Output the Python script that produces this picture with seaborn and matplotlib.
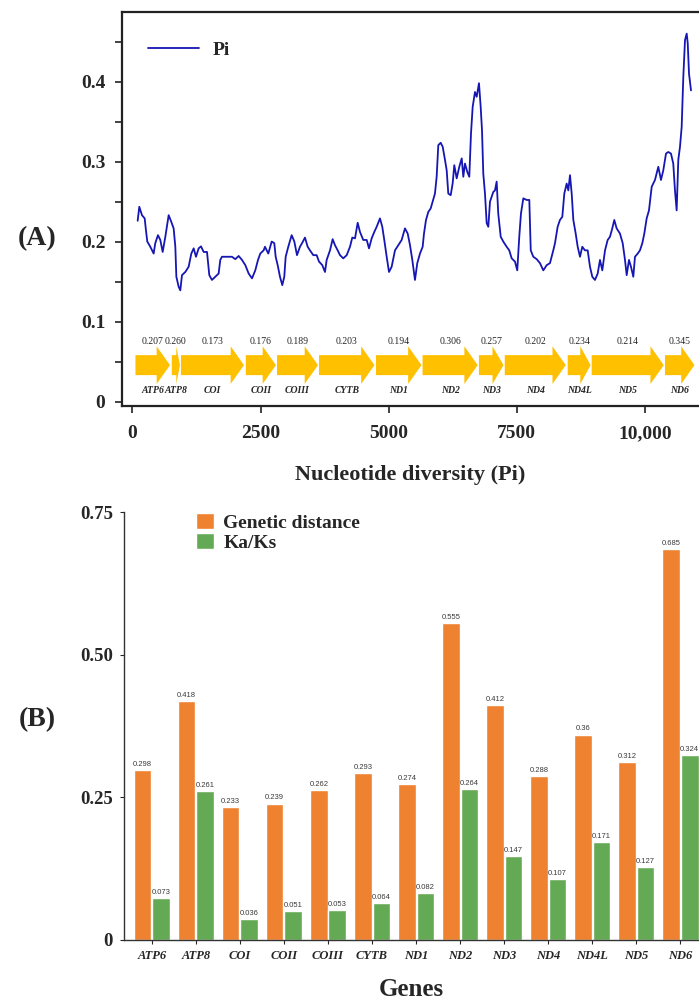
import pandas as pd
import matplotlib.pyplot as plt
import seaborn as sns

# Gene map (bp positions) and per-gene Pi
genes = ["ATP6", "ATP8", "COI", "COII", "COIII", "CYTB", "ND1",
         "ND2", "ND3", "ND4", "ND4L", "ND5", "ND6"]
gene_start = [58, 767, 946, 2211, 2820, 3640, 4751, 5660, 6760, 7264, 8492, 8960, 10390]
gene_end = [732, 927, 2176, 2800, 3620, 4722, 5639, 6736, 7241, 8455, 8939, 10367, 10966]
gene_pi = ["0.207", "0.260", "0.173", "0.176", "0.189", "0.203", "0.194",
           "0.306", "0.257", "0.202", "0.234", "0.214", "0.345"]

# Sliding window Pi
pi_pos = [101, 133, 185, 238, 263, 289, 348, 413, 445, 497, 543, 589, 641, 706, 758,
          803, 836, 856, 901, 933, 966, 1031, 1096, 1148, 1194, 1239, 1291, 1337, 1389,
          1454, 1499, 1551, 1616, 1681, 1713, 1746, 1844, 1941, 2006, 2072, 2137, 2202,
          2267, 2332, 2396, 2449, 2494, 2559,
          2585, 2650, 2716, 2767, 2794, 2833, 2878, 2923, 2962, 2989, 3040, 3106, 3158,
          3210, 3268, 3313, 3366, 3418, 3463, 3528, 3594, 3639, 3704, 3756, 3789, 3854,
          3906, 3951, 4004, 4049, 4113, 4180, 4244, 4289, 4342, 4394, 4439, 4503, 4570,
          4615, 4667, 4718, 4765, 4829, 4874, 4913, 4960, 5005, 5057, 5122, 5187, 5252,
          5317, 5370, 5415, 5460,
          5512, 5557, 5610, 5662, 5688, 5727, 5772, 5819, 5858, 5902, 5935, 5967, 6014,
          6053, 6098, 6131, 6162, 6209, 6248, 6279, 6326, 6377, 6424, 6455, 6488, 6533,
          6572, 6605, 6638, 6683, 6716, 6761, 6794, 6820, 6845, 6878, 6911, 6943, 6976,
          7009, 7040, 7073, 7106, 7137, 7185, 7235, 7301, 7352, 7399, 7463, 7508, 7547,
          7580, 7626, 7692, 7743, 7771, 7821, 7887, 7951, 8016, 8082, 8146, 8211,
          8244, 8296, 8341, 8387, 8426, 8472, 8504, 8537, 8570, 8602, 8648, 8687, 8732,
          8777, 8829, 8882, 8927, 8972, 9024, 9077, 9122, 9167, 9220, 9272, 9317, 9362,
          9401, 9447, 9512, 9565, 9610, 9643, 9688, 9727, 9772, 9805, 9858, 9902, 9948,
          9987, 10033, 10078, 10131, 10195, 10260, 10312, 10357, 10410, 10455, 10507,
          10552, 10585, 10618, 10650, 10683, 10716, 10748, 10781, 10814, 10834, 10859, 10898]
pi_val = [0.226, 0.2435, 0.233, 0.229, 0.214, 0.200, 0.1935, 0.185, 0.198, 0.208, 0.202,
          0.187, 0.206, 0.233, 0.2245, 0.2165, 0.1935, 0.156, 0.1435, 0.139, 0.158, 0.162,
          0.1685, 0.185, 0.1915, 0.181, 0.1915, 0.194, 0.187, 0.187, 0.158, 0.152, 0.156,
          0.160, 0.177, 0.181, 0.181, 0.181, 0.178, 0.182, 0.177, 0.1705, 0.160, 0.154,
          0.164, 0.177, 0.185, 0.189,
          0.1935, 0.185, 0.200, 0.198, 0.181, 0.1705, 0.156, 0.1455, 0.156, 0.181, 0.1935,
          0.208, 0.200, 0.183, 0.1935, 0.1985, 0.205, 0.1935, 0.189, 0.183, 0.183, 0.175,
          0.1705, 0.162, 0.177, 0.189, 0.203, 0.1955, 0.189, 0.183, 0.179, 0.183, 0.1935,
          0.205, 0.204, 0.2235, 0.212, 0.202, 0.202, 0.1915, 0.204, 0.212, 0.2185, 0.229,
          0.2185, 0.202, 0.181, 0.162, 0.1685, 0.189, 0.1955, 0.202, 0.2165, 0.210, 0.1955,
          0.177,
          0.152, 0.173, 0.185, 0.1935, 0.210, 0.227, 0.237, 0.2415, 0.250, 0.260, 0.281,
          0.3205, 0.3235, 0.3185, 0.302, 0.289, 0.260, 0.258, 0.273, 0.2955, 0.279, 0.2935,
          0.304, 0.281, 0.2975, 0.287, 0.281, 0.335, 0.3685, 0.387, 0.381, 0.398, 0.3685,
          0.339, 0.285, 0.260, 0.223, 0.2185, 0.250, 0.256, 0.262, 0.264, 0.275, 0.235,
          0.206, 0.200, 0.1935, 0.189, 0.179, 0.175, 0.164, 0.206, 0.235, 0.254, 0.252,
          0.252, 0.189, 0.181, 0.178, 0.173, 0.164, 0.1705, 0.173, 0.189,
          0.198, 0.2185, 0.227, 0.231, 0.260, 0.2725, 0.264, 0.283, 0.260, 0.227, 0.210,
          0.1935, 0.181, 0.1935, 0.189, 0.189, 0.1685, 0.156, 0.152, 0.160, 0.177, 0.164,
          0.189, 0.202, 0.206, 0.2165, 0.227, 0.2165, 0.210, 0.198, 0.177, 0.158, 0.177,
          0.1685, 0.156, 0.181, 0.185, 0.189, 0.198, 0.210, 0.229, 0.239, 0.2685, 0.277,
          0.2935, 0.277, 0.289, 0.310, 0.312, 0.310, 0.2975, 0.264, 0.239, 0.302, 0.3185,
          0.3435, 0.406, 0.452, 0.460, 0.448, 0.410, 0.389]

# Panel B
genetic_distance = [0.298, 0.418, 0.233, 0.239, 0.262, 0.293, 0.274,
                    0.555, 0.412, 0.288, 0.36, 0.312, 0.685]
ka_ks = [0.073, 0.261, 0.036, 0.051, 0.053, 0.064, 0.082,
         0.264, 0.147, 0.107, 0.171, 0.127, 0.324]

sns.set_theme(style="ticks")
plt.rcParams['font.family'] = ['Liberation Serif', 'DejaVu Serif']

fig = plt.figure(figsize=(6.99, 10.01), dpi=100)

# ---------------- (A) ----------------
ax1 = fig.add_axes([0.1745, 0.5944, 0.8255, 0.3936])
sns.lineplot(x=pi_pos, y=pi_val, ax=ax1, color='#1616b4', linewidth=1.3, label='Pi')

arrow_col = '#FFC000'
for g, s, e, v in zip(genes, gene_start, gene_end, gene_pi):
    L = e - s
    head = min(260, 0.45 * L)
    xs = [s, e - head, e - head, e, e - head, e - head, s]
    ys = [0.033, 0.033, 0.022, 0.0455, 0.069, 0.058, 0.058]
    ax1.fill(xs, ys, color=arrow_col, lw=0)
    ax1.text((s + e) / 2, 0.0745, v, ha='center', va='center', fontsize=7)
    ax1.text((s + e) / 2, 0.0135, g, ha='center', va='center', fontsize=7,
             fontweight='bold', fontstyle='italic')

ax1.set_xlim(-205, 11054)
ax1.set_ylim(-0.0056, 0.487)
ax1.set_xticks([0, 2500, 5000, 7500, 10000])
ax1.set_xticklabels(['0', '2500', '5000', '7500', '10,000'])
ax1.set_yticks([0, 0.1, 0.2, 0.3, 0.4])
ax1.set_yticklabels(['0', '0.1', '0.2', '0.3', '0.4'])
ax1.set_yticks([0.05, 0.15, 0.25, 0.35, 0.45], minor=True)
ax1.tick_params(axis='both', which='both', direction='out', length=5, width=1.2, color='#222222')
ax1.tick_params(axis='x', labelsize=14, pad=9)
ax1.tick_params(axis='y', labelsize=14, pad=7)
for lab in ax1.get_xticklabels() + ax1.get_yticklabels():
    lab.set_fontweight('bold')
ax1.set_xlabel('Nucleotide diversity (Pi)', fontsize=16, fontweight='bold', labelpad=16)
ax1.set_ylabel('')
for side in ['left', 'bottom', 'top']:
    ax1.spines[side].set_linewidth(1.6)
    ax1.spines[side].set_color('#222222')
ax1.spines['right'].set_visible(False)
ax1.legend(loc='upper left', frameon=False, prop={'weight': 'bold', 'size': 14},
           handlelength=2.6, handletextpad=0.7, borderaxespad=0.6, bbox_to_anchor=(0.012, 0.975))

# ---------------- (B) ----------------
df = pd.DataFrame({
    'Gene': genes * 2,
    'Value': genetic_distance + ka_ks,
    'Metric': ['Genetic distance'] * len(genes) + ['Ka/Ks'] * len(genes),
})
ax2 = fig.add_axes([0.1774, 0.061, 0.8226, 0.4275])
sns.barplot(data=df, x='Gene', y='Value', hue='Metric', ax=ax2,
            palette=['#EE8230', '#64AA55'], width=0.84, gap=0.05, saturation=1)
for cont in ax2.containers:
    ax2.bar_label(cont, fmt='%g', fontsize=5.5, padding=1.5, color='#3a3a3a',
                  family=['Liberation Sans', 'DejaVu Sans'])

ax2.set_xlim(-0.63, 12.42)
ax2.set_ylim(0, 0.75)
ax2.set_yticks([0, 0.25, 0.5, 0.75])
ax2.set_yticklabels(['0', '0.25', '0.50', '0.75'])
ax2.tick_params(axis='y', labelsize=13.5, length=3, width=0.8, pad=5)
ax2.tick_params(axis='x', labelsize=9, length=3, width=0.8, pad=4)
for lab in ax2.get_yticklabels():
    lab.set_fontweight('bold')
for lab in ax2.get_xticklabels():
    lab.set_fontweight('bold')
    lab.set_fontstyle('italic')
ax2.set_xlabel('Genes', fontsize=18, fontweight='bold', labelpad=12)
ax2.set_ylabel('')
sns.despine(ax=ax2)
ax2.spines['left'].set_linewidth(1.0)
ax2.spines['bottom'].set_linewidth(1.0)
ax2.spines['left'].set_color('#333333')
ax2.spines['bottom'].set_color('#333333')
ax2.legend(loc='upper left', bbox_to_anchor=(0.095, 1.038), frameon=False,
           prop={'weight': 'bold', 'size': 14}, handlelength=0.9, handleheight=0.9,
           handletextpad=0.5, labelspacing=0.05)

fig.text(0.053, 0.762, '(A)', fontsize=20, fontweight='bold', ha='center', va='center')
fig.text(0.053, 0.281, '(B)', fontsize=20, fontweight='bold', ha='center', va='center')

fig.savefig('out.png', dpi=100)
